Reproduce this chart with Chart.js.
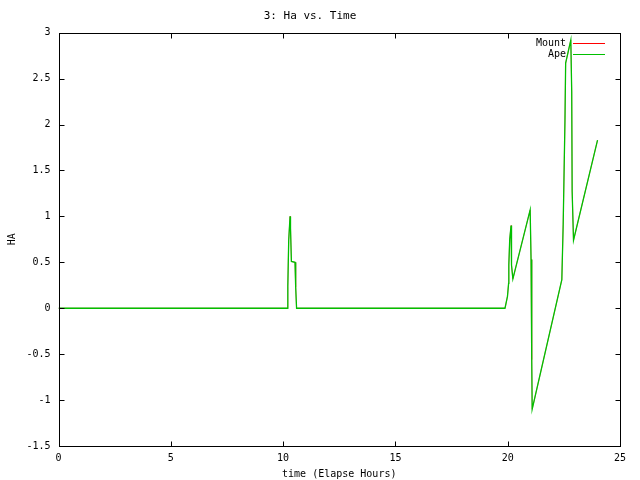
<!DOCTYPE html>
<html>
<head>
<meta charset="utf-8">
<script src="https://cdn.jsdelivr.net/npm/chart.js@4/dist/chart.umd.min.js"></script>
<style>
  body { margin: 0; background: #fff; }
</style>
</head>
<body>
<canvas id="myChart" width="640" height="480"></canvas>
<script>
  // Data
  const times = [0, 10.2, 10.21, 10.25, 10.31, 10.33, 10.37, 10.53, 10.56, 10.6,
    19.88, 19.99, 20.04, 20.05, 20.09, 20.15, 20.17, 20.23, 21.0, 21.04, 21.07, 21.09,
    22.41, 22.47, 22.55, 22.58, 22.81, 22.85, 22.87, 22.93, 24.0];
  const mountHa = [0, 0, 0.24, 0.74, 1.0, 0.87, 0.51, 0.5, 0.23, 0,
    0, 0.13, 0.27, 0.47, 0.75, 0.9, 0.47, 0.32, 1.07, 0.53, -0.56, -1.1,
    0.31, 0.91, 2.05, 2.67, 2.92, 2.36, 1.27, 0.74, 1.83];
  const apeHa = [0, 0, 0.24, 0.74, 1.0, 0.87, 0.51, 0.5, 0.23, 0,
    0, 0.13, 0.27, 0.47, 0.75, 0.9, 0.47, 0.32, 1.07, 0.53, -0.56, -1.1,
    0.31, 0.91, 2.05, 2.67, 2.92, 2.36, 1.27, 0.74, 1.83];
  const seriesNames = ['Mount', 'Ape'];
  const seriesColors = ['#ff0000', '#00c000'];

  const FONT = "'DejaVu Sans Mono', monospace";

  // gnuplot style: ticks pointing inward on all four sides
  const inwardTicks = {
    id: 'inwardTicks',
    afterDraw(chart) {
      const { ctx, chartArea: a, scales } = chart;
      const top = Math.round(a.top) + 0.5;
      const bottom = Math.round(a.bottom) + 0.5;
      const left = Math.round(a.left) + 0.5;
      const right = Math.round(a.right) + 0.5;
      ctx.save();
      ctx.strokeStyle = '#000';
      ctx.lineWidth = 1;
      ctx.beginPath();
      scales.x.ticks.forEach(t => {
        const px = Math.round(scales.x.getPixelForValue(t.value)) + 0.5;
        ctx.moveTo(px, bottom); ctx.lineTo(px, bottom - 5);
        ctx.moveTo(px, top); ctx.lineTo(px, top + 5);
      });
      scales.y.ticks.forEach(t => {
        const py = Math.round(scales.y.getPixelForValue(t.value)) + 0.5;
        ctx.moveTo(left, py); ctx.lineTo(left + 5, py);
        ctx.moveTo(right, py); ctx.lineTo(right - 5, py);
      });
      ctx.stroke();
      ctx.strokeRect(left, top, right - left, bottom - top);
      ctx.restore();
    }
  };

  // legend in the top right corner, text left of the sample line
  const keyBox = {
    id: 'keyBox',
    afterDraw(chart) {
      const { ctx, chartArea: a } = chart;
      const right = Math.round(a.right);
      ctx.save();
      ctx.font = '10px ' + FONT;
      ctx.textAlign = 'right';
      ctx.textBaseline = 'middle';
      seriesNames.forEach((name, i) => {
        const y = Math.round(a.top) + 10 + i * 11;
        ctx.fillStyle = '#000';
        ctx.fillText(name, right - 54, y);
        ctx.strokeStyle = seriesColors[i];
        ctx.lineWidth = 1;
        ctx.beginPath();
        ctx.moveTo(right - 47, y + 0.5);
        ctx.lineTo(right - 15, y + 0.5);
        ctx.stroke();
      });
      ctx.restore();
    }
  };

  const ctx = document.getElementById('myChart');

  const config = {
    type: 'line',
    data: {
      datasets: [
        {
          label: seriesNames[0],
          data: times.map((t, i) => ({ x: t, y: mountHa[i] })),
          borderColor: seriesColors[0],
          borderWidth: 0.5,
          pointRadius: 0,
          tension: 0,
          order: 1
        },
        {
          label: seriesNames[1],
          data: times.map((t, i) => ({ x: t, y: apeHa[i] })),
          borderColor: seriesColors[1],
          borderWidth: 1.3,
          pointRadius: 0,
          tension: 0,
          order: 0
        }
      ]
    },
    options: {
      responsive: false,
      animation: false,
      devicePixelRatio: 1,
      layout: { padding: { left: 0, right: 20, top: 0, bottom: 0 } },
      plugins: {
        legend: { display: false },
        tooltip: { enabled: false },
        title: {
          display: true,
          text: '3: Ha vs. Time',
          color: '#000',
          font: { family: FONT, size: 11, weight: 'normal', lineHeight: 1.2 },
          padding: { top: 10, bottom: 9.5 }
        }
      },
      scales: {
        x: {
          type: 'linear',
          min: 0,
          max: 25,
          grid: { display: false, drawTicks: false },
          border: { display: false },
          ticks: {
            stepSize: 5,
            color: '#000',
            padding: 6,
            maxRotation: 0,
            font: { family: FONT, size: 10 },
            callback: v => String(v)
          },
          title: {
            display: true,
            text: 'time (Elapse Hours)',
            color: '#000',
            font: { family: FONT, size: 10, lineHeight: 1.2 },
            padding: { top: 0, bottom: 0 }
          },
          afterFit: axis => { axis.height = 34; }
        },
        y: {
          min: -1.5,
          max: 3,
          grid: { display: false, drawTicks: false },
          border: { display: false },
          ticks: {
            stepSize: 0.5,
            color: '#000',
            padding: 8,
            font: { family: FONT, size: 10 },
            callback: v => String(Math.round(v * 10) / 10)
          },
          title: {
            display: true,
            text: 'HA',
            color: '#000',
            font: { family: FONT, size: 10, lineHeight: 1.2 },
            padding: { top: 6, bottom: 0 }
          },
          afterFit: axis => { axis.width = 58.5; }
        }
      }
    },
    plugins: [inwardTicks, keyBox]
  };

  const myChart = new Chart(ctx, config);
</script>
</body>
</html>
